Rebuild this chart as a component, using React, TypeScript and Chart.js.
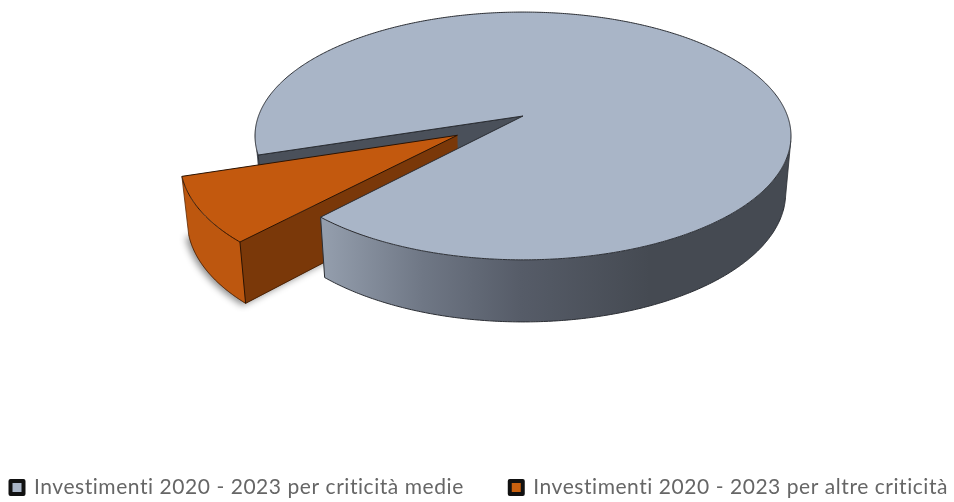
import React, { useEffect, useRef } from "react";
import { Chart, registerables } from "chart.js";

Chart.register(...registerables);

const categories = [
  "Investimenti 2020 - 2023 per criticità medie",
  "Investimenti 2020 - 2023 per altre criticità",
];
const values = [91.75, 8.25];
const sliceColors = ["#a9b5c7", "#c3590e"];
const legendColors = ["#a9b5c7", "#c8600f"];
const explode = [0, 45];

// perspective of the disc: unit disc -> screen
const CX = 523, C = 116, A = 264.5, B = 102, K = -0.161;
const project = (u: number, v: number) => {
  const d = 1 + K * v;
  return { x: CX + (A * u) / d, y: (B * v + C) / d };
};
const lower = (p: { x: number; y: number }) => ({
  x: CX + (p.x - CX) * 0.98,
  y: p.y + 57 + (p.y - 133) * 0.04,
});

const pie3d = {
  id: "pie3d",
  beforeDraw(chart: any) {
    (chart.ctx as any).letterSpacing = "0.55px";
  },
  afterLayout(chart: any) {
    const lg = chart.legend;
    lg.lineWidths = [0];
    lg.left = 10.5 - lg.options.labels.padding;
    lg.right = 3000;
    lg.top = 477 - lg.options.labels.padding;
    lg.bottom = 502;
  },
  beforeDatasetDraw(chart: any) {
    const ctx = chart.ctx as CanvasRenderingContext2D;
    const arcs = chart.getDatasetMeta(0).data;
    const geo = arcs.map((el: any) => {
      const p = el.getProps(["startAngle", "endAngle", "outerRadius"], true);
      const mid = (p.startAngle + p.endAngle) / 2;
      const off = (el.options.offset || 0) / p.outerRadius;
      const ou = Math.cos(mid) * off, ov = Math.sin(mid) * off;
      const at = (t: number) => project(ou + Math.cos(t), ov + Math.sin(t));
      return { start: p.startAngle, end: p.endAngle, apex: project(ou, ov), at, color: el.options.backgroundColor };
    });
    const outline = "#2a2d33";
    const poly = (pts: any[], close = true) => {
      ctx.beginPath();
      pts.forEach((q, i) => (i ? ctx.lineTo(q.x, q.y) : ctx.moveTo(q.x, q.y)));
      if (close) ctx.closePath();
    };
    const arcPts = (g: any, a: number, b: number) => {
      const n = Math.max(2, Math.ceil(Math.abs(b - a) * 120));
      const out = [];
      for (let i = 0; i <= n; i++) out.push(g.at(a + ((b - a) * i) / n));
      return out;
    };
    const wall = (g: any, a: number, b: number, fill: any) => {
      const pts = arcPts(g, a, b);
      poly([...pts, ...pts.map(lower).reverse()]);
      ctx.fillStyle = fill;
      ctx.fill();
    };
    const line = (p: any, q: any, w = 1, c = outline) => {
      ctx.strokeStyle = c;
      ctx.lineWidth = w;
      poly([p, q], false);
      ctx.stroke();
    };

    ctx.save();
    ctx.lineJoin = "round";
    const [main, wedge] = geo;

    // inner cut face of the big slice, seen through the gap
    const mainStartTop = main.at(main.start);
    wall(main, main.start, Math.PI - 0.16, "#4a505a");
    poly([main.apex, mainStartTop, lower(mainStartTop), lower(main.apex)]);
    ctx.fillStyle = "#4a505a";
    ctx.fill();
    line(main.apex, mainStartTop, 1);
    line(mainStartTop, lower(mainStartTop), 1);

    // exploded wedge
    const wa = wedge.at(wedge.start), wb = wedge.at(wedge.end);
    ctx.save();
    ctx.shadowColor = "rgba(0,0,0,0.45)";
    ctx.shadowBlur = 7;
    ctx.shadowOffsetX = -3;
    ctx.shadowOffsetY = 2;
    poly([...arcPts(wedge, wedge.start, wedge.end).map(lower), lower(wedge.apex)]);
    ctx.fillStyle = "#b8540f";
    ctx.fill();
    ctx.restore();
    wall(wedge, wedge.start, wedge.end, "#bd570f");
    poly([wedge.apex, wa, lower(wa), lower(wedge.apex)]);
    ctx.fillStyle = "#7a3809";
    ctx.fill();
    ctx.strokeStyle = "#3a1a04";
    ctx.lineWidth = 0.8;
    poly(arcPts(wedge, wedge.start, wedge.end).map(lower), false);
    ctx.stroke();
    line(lower(wa), lower(wedge.apex), 0.8, "#3a1a04");
    line(wa, lower(wa), 1, "#2a1303");
    line(wb, lower(wb), 0.8, "#5a2a06");
    poly([wedge.apex, ...arcPts(wedge, wedge.start, wedge.end)]);
    ctx.fillStyle = wedge.color;
    ctx.fill();
    ctx.strokeStyle = "#2a1303";
    ctx.lineWidth = 1;
    ctx.stroke();

    // outer wall of the big slice
    const grad = ctx.createLinearGradient(326, 0, 650, 0);
    grad.addColorStop(0, "#939dac");
    grad.addColorStop(0.3, "#6f7785");
    grad.addColorStop(0.6, "#565c68");
    grad.addColorStop(1, "#454a52");
    const wallFrom = 2 * Math.PI + 0.2;
    wall(main, wallFrom, main.end, grad);
    const front = arcPts(main, wallFrom, main.end).map(lower);
    poly(front, false);
    ctx.strokeStyle = outline;
    ctx.lineWidth = 1;
    ctx.stroke();
    const tan = main.at(wallFrom);
    line(tan, lower(tan), 0.8);
    const mainEndTop = main.at(main.end);
    line(mainEndTop, lower(mainEndTop), 1);

    // top of the big slice
    poly([main.apex, ...arcPts(main, main.start, main.end)]);
    ctx.fillStyle = main.color;
    ctx.fill();
    ctx.strokeStyle = outline;
    ctx.lineWidth = 1;
    ctx.stroke();
    ctx.restore();
    return false;
  },
};

export default function App() {
  const ref = useRef<HTMLCanvasElement>(null);
  useEffect(() => {
    const chart = new Chart(ref.current!, {
      type: "pie",
      data: {
        labels: categories,
        datasets: [
          {
            data: values,
            backgroundColor: sliceColors,
            offset: explode,
            borderWidth: 0,
          },
        ],
      },
      plugins: [pie3d],
      options: {
        animation: false,
        responsive: false,
        rotation: 252.1,
        plugins: {
          tooltip: { enabled: false },
          legend: {
            position: "bottom",
            align: "start",
            labels: {
              font: { family: "Lato", size: 21 },
              color: "#666666",
              boxWidth: 13,
              boxHeight: 13,
              padding: 46,
              generateLabels: () =>
                categories.map((text, i) => ({
                  text,
                  fillStyle: legendColors[i],
                  strokeStyle: "#111111",
                  lineWidth: 4,
                  lineJoin: "round",
                  fontColor: "#666666",
                  index: i,
                })),
            },
          },
        },
      },
    } as any);
    return () => chart.destroy();
  }, []);
  return (
    <canvas
      ref={ref}
      width={954}
      height={502}
      style={{ position: "fixed", left: 0, top: 0, width: 954, height: 502, display: "block", filter: "blur(0.4px)" }}
    />
  );
}
